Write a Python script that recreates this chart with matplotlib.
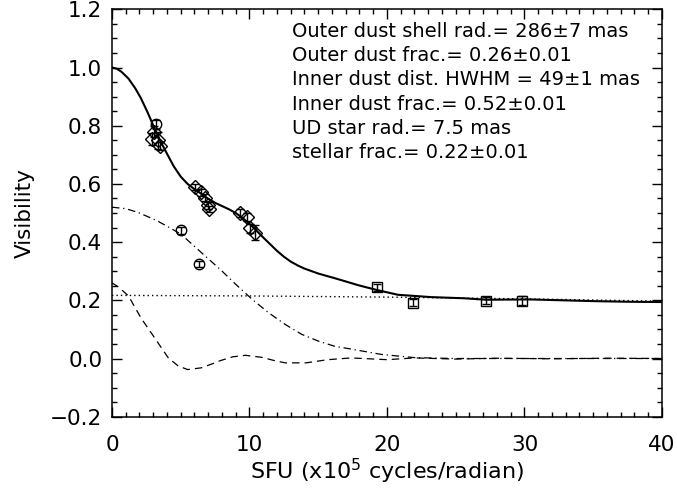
"""Visibility vs spatial frequency with dust shell / inner dust / star model."""

import matplotlib
matplotlib.use("Agg")
import matplotlib.pyplot as plt
from matplotlib.ticker import MultipleLocator

# observed visibilities (x in 1e5 cycles/radian)
diamond_x = [3.05, 2.9, 3.35, 3.5, 6.05, 6.45, 6.8, 6.97, 7.08, 9.3, 9.83, 10.07, 10.4]
diamond_y = [0.78, 0.755, 0.75, 0.73, 0.59, 0.572, 0.553, 0.527, 0.515, 0.50, 0.486, 0.448, 0.433]
diamond_err = [0.02, 0.02, 0.03, 0.015, 0.01, 0.012, 0.012, 0.012, 0.01, 0.015, 0.015, 0.015, 0.025]

circle_x = [3.2, 5.05, 6.35]
circle_y = [0.805, 0.44, 0.325]
circle_err = [0.015, 0.012, 0.01]

square_x = [19.3, 21.9, 27.2, 29.8]
square_y = [0.245, 0.191, 0.199, 0.199]
square_err = [0.012, 0.012, 0.012, 0.015]

# model curves
total_x = [0, 0.35, 0.7, 1.2, 1.7, 2.1, 2.6, 3.1, 3.6, 4.1, 4.5, 5.0, 5.5, 6.0, 6.5,
           7.0, 7.5, 8.0, 8.5, 9.0, 9.5, 10.0, 10.5, 11.0, 11.5, 12.0, 12.5, 13.0,
           13.5, 14.0, 15.0, 16.2, 17.2, 17.9, 19.3, 20.8, 23.2, 25.6, 27.2, 30.4,
           32.8, 35.2, 37.6, 40]
total_y = [1.0, 0.996, 0.985, 0.962, 0.928, 0.895, 0.845, 0.79, 0.74, 0.695, 0.66,
           0.625, 0.6, 0.582, 0.566, 0.549, 0.535, 0.524, 0.513, 0.5, 0.483, 0.463,
           0.44, 0.416, 0.393, 0.37, 0.35, 0.333, 0.32, 0.309, 0.292, 0.276, 0.262,
           0.252, 0.235, 0.219, 0.211, 0.207, 0.202, 0.203, 0.2, 0.197, 0.195, 0.194]

star_x = [0, 10, 20, 30, 40]
star_y = [0.217, 0.215, 0.211, 0.205, 0.197]

inner_x = [0, 0.2, 1.0, 1.9, 3.3, 5.0, 6.5, 7.9, 9.0, 10.2, 11.4, 12.6, 13.8, 15.0,
           16.2, 17.2, 19.6, 22.0, 25, 30, 40]
inner_y = [0.52, 0.519, 0.515, 0.502, 0.473, 0.428, 0.364, 0.305, 0.255, 0.203, 0.157,
           0.117, 0.083, 0.06, 0.042, 0.034, 0.014, 0.003, 0.0, 0.0, 0.0]

shell_x = [0, 0.5, 1.2, 2.1, 3.1, 4.1, 4.8, 5.5, 6.5, 7.2, 7.9, 8.8, 9.7, 10.9, 11.8,
           12.6, 14.1, 15.7, 17.4, 20.0, 22.0, 25, 28, 32, 36, 40]
shell_y = [0.26, 0.245, 0.215, 0.14, 0.071, 0.002, -0.025, -0.038, -0.032, -0.02,
           -0.007, 0.006, 0.011, 0.004, -0.007, -0.015, -0.015, -0.004, 0.002, -0.004,
           0.002, -0.002, 0.001, -0.001, 0.001, 0.0]

fit_lines = [
    "Outer dust shell rad.= 286\u00b17 mas",
    "Outer dust frac.= 0.26\u00b10.01",
    "Inner dust dist. HWHM = 49\u00b11 mas",
    "Inner dust frac.= 0.52\u00b10.01",
    "UD star rad.= 7.5 mas",
    "stellar frac.= 0.22\u00b10.01",
]

plt.rcParams["font.family"] = ["DejaVu Sans"]
plt.rcParams["mathtext.default"] = "regular"

fig = plt.figure(figsize=(6.77, 4.88), dpi=100)
ax = fig.add_axes([0.1654, 0.1461, 0.8124, 0.8348])

ax.plot(total_x, total_y, color="black", lw=1.5)
ax.plot(star_x, star_y, color="black", lw=1.0, dashes=(1, 2.2))
ax.plot(inner_x, inner_y, color="black", lw=0.9, dashes=(6, 3, 1, 3))
ax.plot(shell_x, shell_y, color="black", lw=0.9, dashes=(6, 4))

mk = dict(ls="none", mfc="none", mec="black", ecolor="black", elinewidth=1.0,
          capsize=3, mew=1.0)
ax.errorbar(diamond_x, diamond_y, yerr=diamond_err, marker="D", ms=7, **mk)
ax.errorbar(circle_x, circle_y, yerr=circle_err, marker="o", ms=7.5, **mk)
ax.errorbar(square_x, square_y, yerr=square_err, marker="s", ms=7.5, **mk)

for i, s in enumerate(fit_lines):
    ax.text(13.07, 1.106 - i * 0.0835, s, fontsize=14, va="baseline", ha="left")

ax.set_xlim(0, 40)
ax.set_ylim(-0.2, 1.2)
ax.xaxis.set_major_locator(MultipleLocator(10))
ax.xaxis.set_minor_locator(MultipleLocator(1))
ax.yaxis.set_major_locator(MultipleLocator(0.2))
ax.yaxis.set_minor_locator(MultipleLocator(0.05))
ax.yaxis.set_major_formatter(lambda v, p: f"{v:.1f}".replace("-", "\u2212"))
ax.tick_params(which="both", direction="in", top=True, right=True, width=1.0,
               labelsize=15.5)
ax.tick_params(which="major", length=7.5)
ax.tick_params(which="minor", length=3.8)
ax.tick_params(axis="x", which="major", pad=13)
ax.tick_params(axis="y", which="major", pad=7)
for sp in ax.spines.values():
    sp.set_linewidth(1.1)

ax.set_xlabel("SFU (x10$^5$ cycles/radian)", fontsize=16)
ax.xaxis.set_label_coords(0.5, -0.098)
ax.set_ylabel("Visibility", fontsize=15.5)
ax.yaxis.set_label_coords(-0.14, 0.5)

fig.savefig("out.png", dpi=100)
